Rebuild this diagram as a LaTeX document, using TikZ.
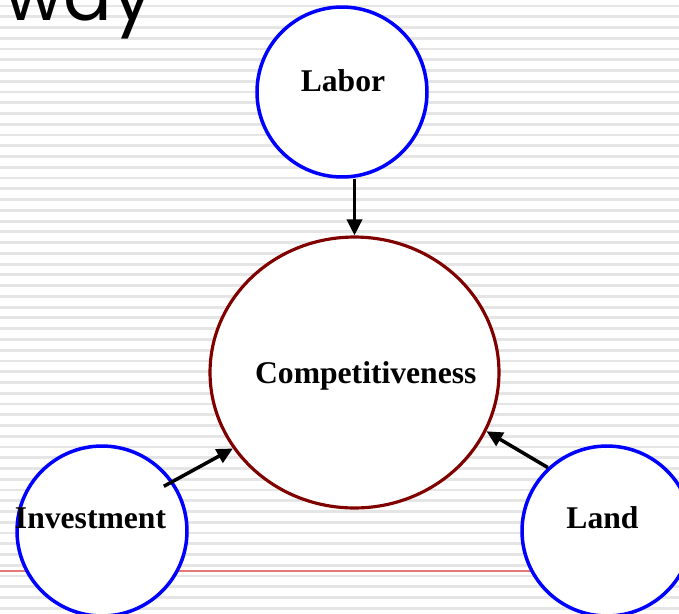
\documentclass[tikz,border=0pt]{standalone}
\usepackage{fontspec}
\setmainfont{Liberation Serif}
\newfontfamily\titlefont{Poppins}
\usetikzlibrary{arrows.meta, shapes.geometric}

\begin{document}
\begin{tikzpicture}[x=0.02cm, y=-0.02cm, every node/.style={font=\fontsize{18}{20}\selectfont\bfseries},
    factor/.style={draw=factorblue, line width=2pt, circle, fill=white, minimum size=3.4cm, inner sep=0pt},
    link/.style={-{Triangle[length=0.32cm, width=0.3cm]}, line width=2pt}]
    % Define colors
    \definecolor{factorblue}{RGB}{0, 0, 255}
    \definecolor{goalred}{RGB}{128, 0, 0}
    \definecolor{stripegray}{RGB}{229, 229, 229}
    \definecolor{rulered}{RGB}{226, 122, 122}

    \useasboundingbox (0,0) rectangle (679,613);
    \clip (0,0) rectangle (679,613);

    % Background stripes
    \foreach \k in {0,...,56}
        \draw[stripegray, line width=1.6pt] (0, 6+10.755*\k) -- (679, 6+10.755*\k);

    % Title (cut off at the top)
    \node[font=\titlefont\fontsize{41}{42}\selectfont, anchor=base west, inner sep=0pt] (title) at (4, 20) {way};

    % Red rule
    \draw[rulered, line width=1.2pt] (0, 571) -- (560, 571);

    % Factors
    \node[factor] (labor) at (342, 92) {};
    \node[anchor=base] (labortext) at (343, 91.7) {Labor};
    \node[factor] (invest) at (102, 531) {};
    \node[anchor=base] (investtext) at (90.5, 528) {Investment};
    \node[factor] (land) at (607, 531) {};
    \node[anchor=base] (landtext) at (602.5, 528.3) {Land};

    % Competitiveness
    \node[draw=goalred, line width=1.8pt, ellipse, fill=white, minimum width=5.78cm, minimum height=5.42cm, inner sep=0pt] (comp) at (354.5, 372.5) {};
    \node[anchor=base] (comptext) at (365.8, 383.3) {Competitiveness};

    % Arrows into competitiveness
    \draw[link] (labor.south -| comp.north) -- (comp.north);
    \draw[link, shorten <=-0.21cm] (invest.35) -- (comp.212);
    \draw[link] (land.133) -- (comp.336);
\end{tikzpicture}
\end{document}
